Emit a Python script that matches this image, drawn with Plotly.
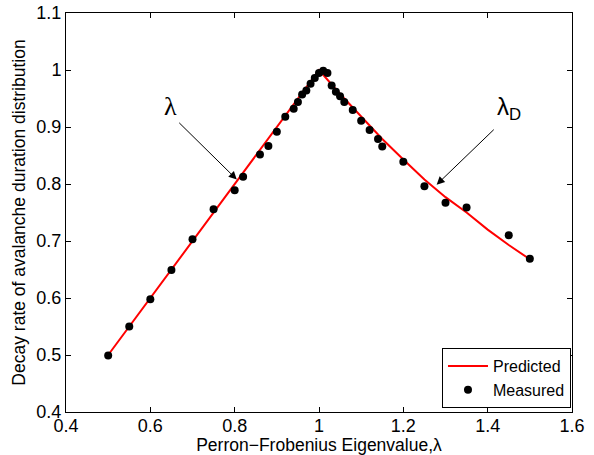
import plotly.graph_objects as go

# Predicted curve
pred_x = [0.5, 0.6, 0.7, 0.8, 0.9, 1.0, 1.05, 1.1, 1.15, 1.2, 1.25, 1.3, 1.35, 1.4, 1.45, 1.5]
pred_y = [0.5, 0.6, 0.7, 0.8, 0.9, 1.0, 0.958, 0.918, 0.879, 0.843, 0.808, 0.777, 0.750, 0.720, 0.693, 0.668]

# Measured points
meas_x = [0.5, 0.55, 0.6, 0.65, 0.7, 0.75, 0.8, 0.82, 0.86, 0.88, 0.9, 0.92, 0.94, 0.95,
          0.96, 0.97, 0.98, 0.99, 1.0, 1.01, 1.02, 1.03, 1.04, 1.05, 1.06, 1.08, 1.1, 1.12,
          1.14, 1.15, 1.2, 1.25, 1.3, 1.35, 1.45, 1.5]
meas_y = [0.499, 0.550, 0.598, 0.649, 0.703, 0.756, 0.789, 0.813, 0.852, 0.867, 0.892, 0.918,
          0.932, 0.944, 0.957, 0.964, 0.976, 0.986, 0.995, 0.999, 0.995, 0.973, 0.962, 0.954,
          0.944, 0.930, 0.911, 0.895, 0.879, 0.866, 0.839, 0.796, 0.767, 0.759, 0.710, 0.669]

x_ticks = [0.4, 0.6, 0.8, 1.0, 1.2, 1.4, 1.6]
x_tick_labels = ["0.4", "0.6", "0.8", "1", "1.2", "1.4", "1.6"]
y_ticks = [0.4, 0.5, 0.6, 0.7, 0.8, 0.9, 1.0, 1.1]
y_tick_labels = ["0.4", "0.5", "0.6", "0.7", "0.8", "0.9", "1", "1.1"]

FONT = "Liberation Sans, Arial, Helvetica, sans-serif"

fig = go.Figure()
fig.add_trace(go.Scatter(x=pred_x, y=pred_y, mode="lines", name="Predicted",
                         line=dict(color="#ff0000", width=2)))
fig.add_trace(go.Scatter(x=meas_x, y=meas_y, mode="markers", name="Measured",
                         marker=dict(color="black", size=8)))

axis_common = dict(showgrid=False, zeroline=False, showline=True, linecolor="black",
                   linewidth=1, mirror="ticks", ticks="inside", ticklen=5,
                   tickcolor="black", ticklabeloverflow="allow",
                   tickfont=dict(family=FONT, size=18, color="black"))

fig.update_xaxes(range=[0.4, 1.6], tickvals=x_ticks, ticktext=x_tick_labels,
                 ticklabelstandoff=-3,
                 title=dict(text="Perron\u2212Frobenius Eigenvalue,\u03bb",
                            font=dict(family=FONT, size=17.5, color="black"), standoff=2),
                 automargin=False, **axis_common)
fig.update_yaxes(range=[0.4, 1.1002], tickvals=y_ticks, ticktext=y_tick_labels,
                 title=dict(text="Decay rate of avalanche duration distribution",
                            font=dict(family=FONT, size=17.5, color="black"), standoff=6),
                 automargin=False, **axis_common)

fig.add_annotation(x=0.805, y=0.808, ax=0.665, ay=0.910, xref="x", yref="y",
                   axref="x", ayref="y", text="", showarrow=True, arrowhead=2,
                   arrowsize=1.6, arrowwidth=1, arrowcolor="black")
fig.add_annotation(x=0.647, y=0.937, xref="x", yref="y", text="\u03bb", showarrow=False,
                   font=dict(family="Liberation Serif, Times New Roman, serif", size=26, color="black"))
fig.add_annotation(x=1.279, y=0.799, ax=1.418, ay=0.898, xref="x", yref="y",
                   axref="x", ayref="y", text="",
                   showarrow=True, arrowhead=2,
                   arrowsize=1.6, arrowwidth=1, arrowcolor="black")
fig.add_annotation(x=1.45, y=0.932, xref="x", yref="y", text="\u03bb<sub>D</sub>",
                   showarrow=False, font=dict(family=FONT, size=24, color="black"))

fig.update_layout(
    width=594, height=455,
    margin=dict(l=66, r=22, t=13, b=43),
    paper_bgcolor="white", plot_bgcolor="white",
    font=dict(family=FONT, size=18, color="black"),
    legend=dict(x=0.998, y=0.01, xanchor="right", yanchor="bottom",
                bordercolor="black", borderwidth=1, bgcolor="white",
                font=dict(family=FONT, size=16, color="black"),
                tracegroupgap=0, itemwidth=40),
    showlegend=True,
)

# remove the default page margin so the figure sits at the window's top-left corner
fig.write_html("out.html", config={"displayModeBar": False},
               post_script="document.body.style.margin='0';")
